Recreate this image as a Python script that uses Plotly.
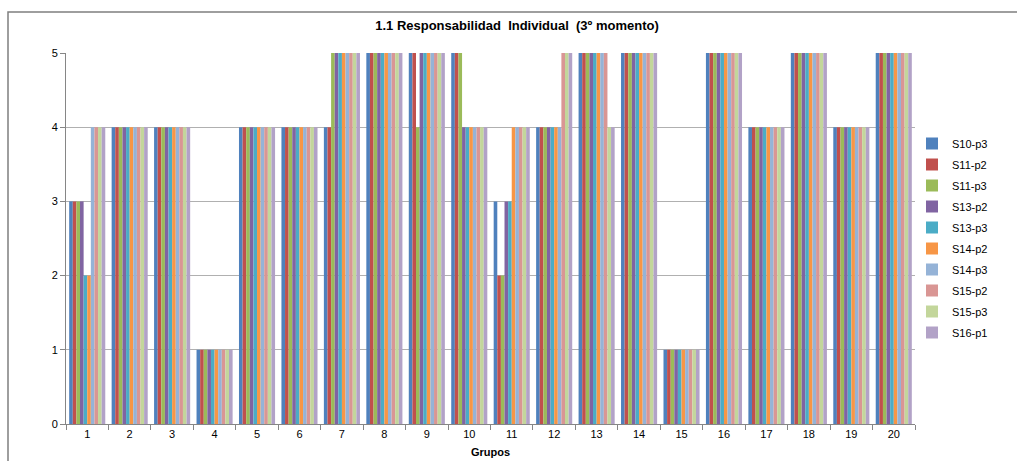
import plotly.graph_objects as go

grupos = [str(i) for i in range(1, 21)]
series_names = ["S10-p3", "S11-p2", "S11-p3", "S13-p2", "S13-p3",
                "S14-p2", "S14-p3", "S15-p2", "S15-p3", "S16-p1"]

# values per group (rows = groups 1..20, columns = series)
g01 = [3, 3, 3, 3, 2, 2, 4, 4, 4, 4]
g02 = [4, 4, 4, 4, 4, 4, 4, 4, 4, 4]
g03 = [4, 4, 4, 4, 4, 4, 4, 4, 4, 4]
g04 = [1, 1, 1, 1, 1, 1, 1, 1, 1, 1]
g05 = [4, 4, 4, 4, 4, 4, 4, 4, 4, 4]
g06 = [4, 4, 4, 4, 4, 4, 4, 4, 4, 4]
g07 = [4, 4, 5, 5, 5, 5, 5, 5, 5, 5]
g08 = [5, 5, 5, 5, 5, 5, 5, 5, 5, 5]
g09 = [5, 5, 4, 5, 5, 5, 5, 5, 5, 5]
g10 = [5, 5, 5, 4, 4, 4, 4, 4, 4, 4]
g11 = [3, 2, 2, 3, 3, 4, 4, 4, 4, 4]
g12 = [4, 4, 4, 4, 4, 4, 4, 5, 5, 5]
g13 = [5, 5, 5, 5, 5, 5, 5, 5, 4, 4]
g14 = [5, 5, 5, 5, 5, 5, 5, 5, 5, 5]
g15 = [1, 1, 1, 1, 1, 1, 1, 1, 1, 1]
g16 = [5, 5, 5, 5, 5, 5, 5, 5, 5, 5]
g17 = [4, 4, 4, 4, 4, 4, 4, 4, 4, 4]
g18 = [5, 5, 5, 5, 5, 5, 5, 5, 5, 5]
g19 = [4, 4, 4, 4, 4, 4, 4, 4, 4, 4]
g20 = [5, 5, 5, 5, 5, 5, 5, 5, 5, 5]
groups = [g01, g02, g03, g04, g05, g06, g07, g08, g09, g10,
          g11, g12, g13, g14, g15, g16, g17, g18, g19, g20]

colors = ["#4F81BD", "#C0504D", "#9BBB59", "#8064A2", "#4BACC6",
          "#F79646", "#95B3D7", "#D99694", "#C3D69B", "#B2A2C7"]

W, H = 1017, 461
L, R, T, B = 66, 915, 53, 424

fig = go.Figure()
for j, name in enumerate(series_names):
    fig.add_trace(go.Bar(
        x=grupos, y=[g[j] for g in groups], name=name, legendgroup=name,
        marker=dict(color=colors[j], line=dict(width=0)),
    ))

font = "Liberation Sans, Arial, sans-serif"
pw, ph = R - L, B - T

fig.update_layout(
    width=W, height=H,
    margin=dict(l=L, r=W - R, t=T, b=H - B, autoexpand=False),
    paper_bgcolor="white", plot_bgcolor="white",
    barmode="group", bargap=0.15, bargroupgap=0,
    font=dict(family=font, size=11, color="#000000"),
    title=dict(text="<b>1.1 Responsabilidad  Individual  (3º momento)</b>",
               x=517 / W, xanchor="center", y=1 - 25 / H, yanchor="middle",
               font=dict(family=font, size=13, color="#000000")),
    xaxis=dict(
        title=dict(text="<b>Grupos</b>", font=dict(size=11), standoff=9),
        showgrid=False, showline=True, linecolor="#868686", linewidth=1,
        ticks="outside", tickson="boundaries", ticklen=5, tickcolor="#868686",
        tickfont=dict(size=11),
    ),
    yaxis=dict(
        range=[0, 5], tickvals=[0, 1, 2, 3, 4, 5],
        showgrid=True, gridcolor="#B0B0B0", gridwidth=1,
        showline=True, linecolor="#868686", linewidth=1,
        ticks="outside", ticklen=5, tickcolor="#868686",
        tickfont=dict(size=11), zeroline=False,
    ),
    legend=dict(x=(912 - L) / pw, xanchor="left", y=(B - 129) / ph, yanchor="top",
                font=dict(size=11), tracegroupgap=2, itemwidth=30,
                bgcolor="rgba(0,0,0,0)"),
    showlegend=True,
    shapes=[dict(type="rect", xref="paper", yref="paper",
                 x0=(8 - L) / pw, x1=(1040 - L) / pw,
                 y0=(B - 480) / ph, y1=(B - 12) / ph,
                 line=dict(color="#7F7F7F", width=1.5), layer="below")],
)

fig.write_html("out.html", config={"displayModeBar": False},
               post_script="document.body.style.margin='0';document.body.style.overflow='hidden';")
